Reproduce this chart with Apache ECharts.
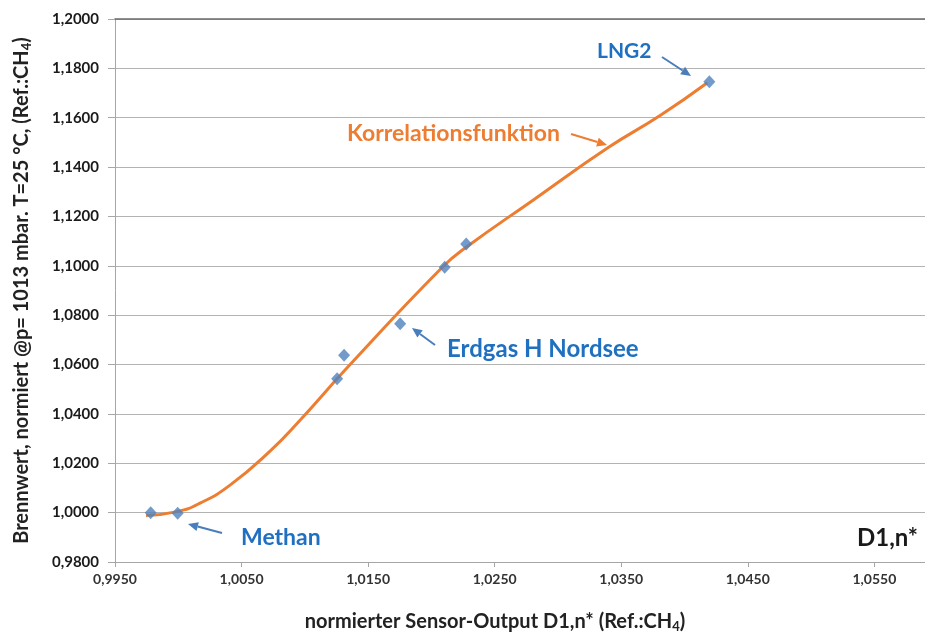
<!DOCTYPE html>
<html><head><meta charset="utf-8">
<script src="https://cdn.jsdelivr.net/npm/echarts@6/dist/echarts.min.js"></script>
<style>html,body{margin:0;padding:0;background:#fff}#c{width:925px;height:634px}</style>
</head><body><div id="c"></div>
<script>
// Measured points (normierter Sensor-Output D1,n*, Brennwert normiert)
const pointX = [0.99782, 0.99995, 1.01255, 1.01310, 1.01753, 1.02105, 1.02275, 1.04196];
const pointY = [1.0000, 0.9998, 1.0542, 1.0638, 1.0765, 1.0994, 1.1088, 1.1746];
// Korrelationsfunktion
const curveX = [0.99745, 0.99990, 1.00172, 1.00409, 1.00725, 1.00962, 1.01334, 1.02090, 1.02280, 1.02800, 1.03400, 1.03810, 1.04180];
const curveY = [0.99880, 1.00040, 1.00384, 1.01114, 1.02493, 1.03746, 1.05867, 1.09960, 1.10770, 1.12650, 1.14800, 1.16100, 1.17420];
// Tick labels
const xTicks = [0.9950, 1.0050, 1.0150, 1.0250, 1.0350, 1.0450, 1.0550];
const yTicks = [0.98, 1.00, 1.02, 1.04, 1.06, 1.08, 1.10, 1.12, 1.14, 1.16, 1.18, 1.20];

const FONT = 'Lato';
const fmt = v => Number(v).toFixed(4).replace('.', ',');

function arrow(x1, y1, x2, y2, color) {
  const a = Math.atan2(y2 - y1, x2 - x1);
  const L = 10, W = 4.5;
  const bx = x2 - L * Math.cos(a), by = y2 - L * Math.sin(a);
  const px = -Math.sin(a), py = Math.cos(a);
  return [
    {type: 'line', shape: {x1, y1, x2: bx, y2: by}, style: {stroke: color, lineWidth: 2}, z: 100},
    {type: 'polygon', shape: {points: [[x2, y2], [bx + px * W, by + py * W], [bx - px * W, by - py * W]]}, style: {fill: color}, z: 100}
  ];
}
function label(x, y, text, color, align, size) {
  return {type: 'text', x, y, z: 100, style: {text, fill: color, font: 'bold ' + (size || 22) + 'px ' + FONT, align: align || 'left', verticalAlign: 'middle'}};
}

const chart = echarts.init(document.getElementById('c'), null, {renderer: 'canvas'});
const BLUE = '#1F70C1', ARROWBLUE = '#4A7EBB', ORANGE = '#ED7D31';

chart.setOption({
  animation: false,
  backgroundColor: '#fff',
  grid: {left: 115, right: 0, top: 19, bottom: 72, containLabel: false},
  xAxis: [{
    type: 'value', min: 0.995, max: 1.059,
    axisLine: {lineStyle: {color: '#a6a6a6', width: 1}},
    axisTick: {show: true, length: 5, customValues: xTicks, lineStyle: {color: '#a6a6a6'}},
    axisLabel: {customValues: xTicks, formatter: fmt, margin: 10, fontSize: 14, fontWeight: 'bold', fontFamily: FONT, color: '#333'},
    splitLine: {show: false}
  }, {
    type: 'value', position: 'top', min: 0.995, max: 1.059,
    axisLine: {show: true, lineStyle: {color: '#6b6b6b', width: 1.5}},
    axisTick: {show: false}, axisLabel: {show: false}, splitLine: {show: false}
  }],
  yAxis: {
    type: 'value', min: yTicks[0], max: yTicks[yTicks.length - 1], interval: 0.02,
    axisLine: {show: true, lineStyle: {color: '#a6a6a6', width: 1}},
    axisTick: {show: true, length: 7, lineStyle: {color: '#a6a6a6'}},
    axisLabel: {formatter: fmt, margin: 16, fontSize: 15, fontWeight: 'bold', fontFamily: FONT, color: '#1a1a1a'},
    splitLine: {show: true, lineStyle: {color: '#b3b3b3', width: 1}},
    name: '{t|Brennwert, normiert @p= 1013 mbar. T=25 °C, (Ref.:CH}{s|4}{t|)}',
    nameLocation: 'middle', nameGap: 82, nameRotate: 90,
    nameTextStyle: {
      rich: {
        t: {fontSize: 20, fontWeight: 'bold', fontFamily: FONT, color: '#222'},
        s: {fontSize: 13, fontWeight: 'bold', fontFamily: FONT, color: '#222', padding: [10, 0, 0, 0]}
      }
    }
  },
  series: [{
    type: 'line', name: 'Korrelationsfunktion',
    data: curveX.map((x, i) => [x, curveY[i]]),
    smooth: 0.5, showSymbol: false, symbol: 'none',
    lineStyle: {color: ORANGE, width: 3}, z: 3
  }, {
    type: 'scatter', name: 'Messwerte',
    data: pointX.map((x, i) => [x, pointY[i]]),
    symbol: 'diamond', symbolSize: [12, 13],
    itemStyle: {color: '#4F81BD'}, z: 4
  }],
  graphic: [
    {type: 'text', x: 495, y: 622, z: 100, style: {
      text: '{t|normierter Sensor-Output D1,n* (Ref.:CH}{s|4}{t|)}', align: 'center', verticalAlign: 'middle',
      rich: {
        t: {fontSize: 20, fontWeight: 'bold', fontFamily: FONT, fill: '#222'},
        s: {fontSize: 13, fontWeight: 'bold', fontFamily: FONT, fill: '#222', padding: [10, 0, 0, 0]}
      }}},
    label(597, 51, 'LNG2', BLUE, 'left', 21),
    ...arrow(662, 57, 691, 76, ARROWBLUE),
    label(347, 134, 'Korrelationsfunktion', ORANGE, 'left', 23),
    ...arrow(571, 134, 607, 145, ORANGE),
    label(447, 349, 'Erdgas H Nordsee', BLUE, 'left', 24),
    ...arrow(435, 345, 412, 328, ARROWBLUE),
    label(241, 538, 'Methan', BLUE, 'left', 23),
    ...arrow(222, 533, 188, 524, ARROWBLUE),
    label(918, 538, 'D1,n*', '#1a1a1a', 'right', 24)
  ]
});
</script></body></html>
